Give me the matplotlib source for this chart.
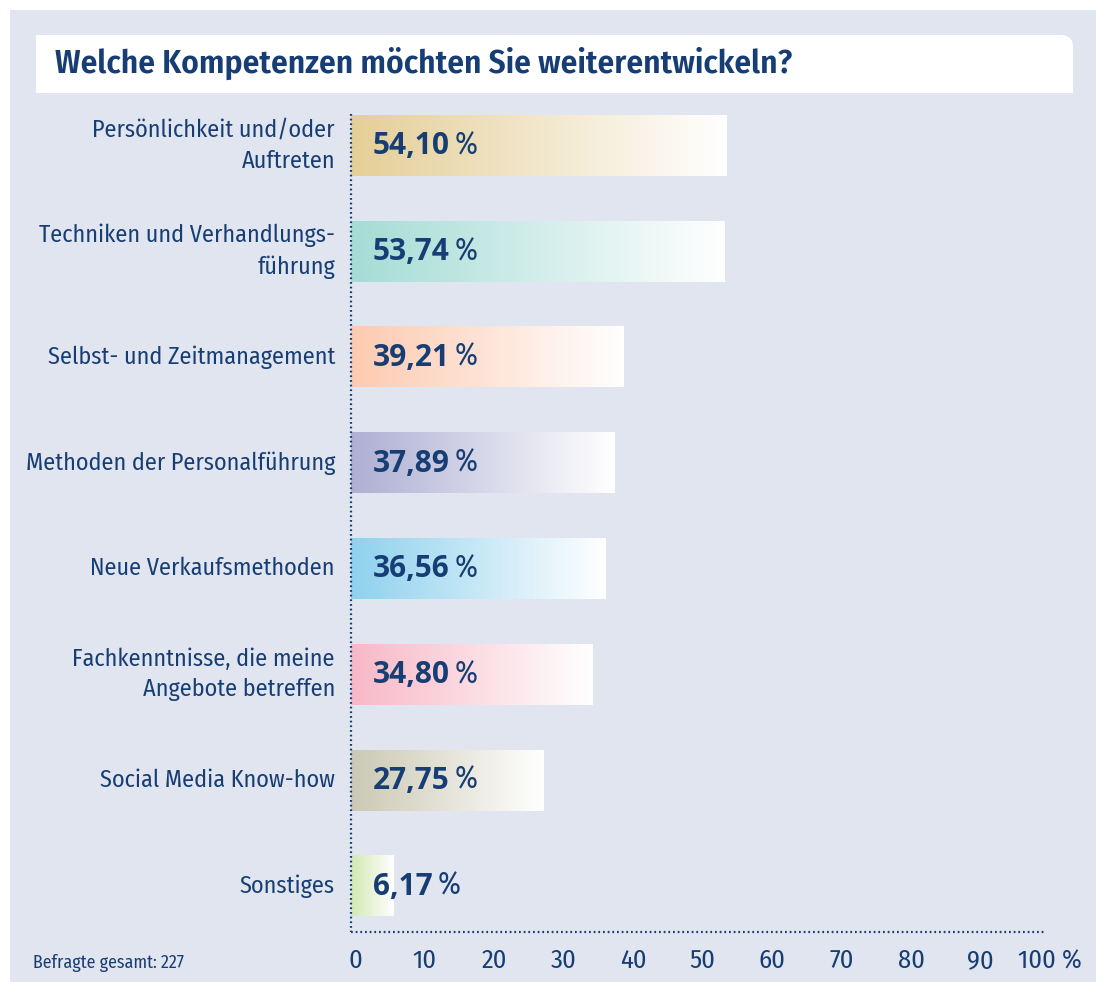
import numpy as np
import matplotlib
matplotlib.use("Agg")
import matplotlib.pyplot as plt
from matplotlib import font_manager
from matplotlib.colors import LinearSegmentedColormap
from matplotlib.patches import Rectangle, FancyBboxPatch
from matplotlib.transforms import ScaledTranslation

# ---------------- data ----------------
categories = [
    "Persönlichkeit und/oder\nAuftreten",
    "Techniken und Verhandlungs-\nführung",
    "Selbst- und Zeitmanagement",
    "Methoden der Personalführung",
    "Neue Verkaufsmethoden",
    "Fachkenntnisse, die meine\nAngebote betreffen",
    "Social Media Know-how",
    "Sonstiges",
]
values = [54.10, 53.74, 39.21, 37.89, 36.56, 34.80, 27.75, 6.17]
value_labels = ["54,10", "53,74", "39,21", "37,89", "36,56", "34,80", "27,75", "6,17"]
bar_colors = ["#E5CF98", "#A5DCD5", "#FDCAB0", "#AEAFD3", "#8FD1EE", "#F8B8C6", "#CBC8B3", "#D3E8B3"]
xticks = [0, 10, 20, 30, 40, 50, 60, 70, 80, 90, 100]
xtick_labels = ["0", "10", "20", "30", "40", "50", "60", "70", "80", "90", "100 %"]
title = "Welche Kompetenzen möchten Sie weiterentwickeln?"
footnote = "Befragte gesamt: 227"

# ---------------- fonts ----------------
names = {f.name for f in font_manager.fontManager.ttflist}
COND = "Open Sans"
for cand in ["Fira Sans Condensed", "PT Sans Narrow", "Asap Condensed",
             "Encode Sans Condensed", "Roboto Condensed", "Open Sans Condensed"]:
    if cand in names:
        COND = cand
        break
NUM = "Open Sans"
NAVY = "#173E74"
PANEL = "#E1E5F0"

W, H = 1096, 982
fig = plt.figure(figsize=(W / 100, H / 100), dpi=100)
fig.patch.set_facecolor("white")

def fx(px):
    return px / W

def fy(py):
    return 1 - py / H

# panel background
fig.patches.append(Rectangle((fx(10), 0), fx(W) - fx(10), fy(10), transform=fig.transFigure,
                             facecolor=PANEL, edgecolor="none", zorder=-3))
# title box with rounded top-right corner
x0, x1, y0, y1 = 36, 1073, 35, 93
fig.patches.append(FancyBboxPatch((fx(x0), fy(y1)), fx(x1) - fx(x0), fy(y0) - fy(y1),
                                  boxstyle="round,pad=0,rounding_size=0.012",
                                  transform=fig.transFigure, facecolor="white",
                                  edgecolor="none", zorder=-2))
fig.patches.append(Rectangle((fx(x0), fy(y1)), fx(x1 - 20) - fx(x0), fy(y0) - fy(y1),
                             transform=fig.transFigure, facecolor="white", edgecolor="none", zorder=-2))
fig.patches.append(Rectangle((fx(x0), fy(y1)), fx(x1) - fx(x0), fy(y1 - 20) - fy(y1),
                             transform=fig.transFigure, facecolor="white", edgecolor="none", zorder=-2))

fig.text(fx(55), fy(73), title, fontsize=24, fontweight="semibold", color=NAVY,
         family=COND, va="baseline", ha="left", zorder=3)
fig.text(fx(33), fy(968), footnote, fontsize=12.9, color=NAVY, family=COND,
         va="baseline", ha="left", zorder=3)

# ---------------- axes ----------------
ax_left, ax_right = 351, 1046
ax_top, ax_bottom = 92.6, 932
ax = fig.add_axes([fx(ax_left), fy(ax_bottom), fx(ax_right) - fx(ax_left), fy(ax_top) - fy(ax_bottom)])
ax.set_zorder(5)
ax.patch.set_visible(False)
ax.set_xlim(0, 100)
ax.set_ylim(7.435, -0.5)
for s in ax.spines.values():
    s.set_visible(False)

bar_h = 0.575
grad = np.linspace(0, 1, 256).reshape(1, -1)
for i, (v, c) in enumerate(zip(values, bar_colors)):
    cmap = LinearSegmentedColormap.from_list(f"g{i}", [c, "#FFFFFF"])
    ax.imshow(grad, cmap=cmap, extent=[0, v, i + bar_h / 2, i - bar_h / 2],
              aspect="auto", interpolation="bilinear", zorder=2)
    t = ax.annotate(value_labels[i], xy=(0, i + 0.083), xytext=(22 * 0.72, 0),
                    textcoords="offset points", ha="left", va="baseline",
                    fontsize=21.5, fontweight="bold", family=NUM, color=NAVY, zorder=4)
    ax.annotate("%", xy=(1, i + 0.083), xycoords=(t, "data"), xytext=(3.5, 0),
                textcoords="offset points", ha="left", va="baseline",
                fontsize=22, fontweight="normal", family=COND, color=NAVY, zorder=4)
    ax.annotate(categories[i], xy=(0, i), xytext=(-16 * 0.72, 0), textcoords="offset points",
                ha="right", va="center", fontsize=17.4, family=COND, color=NAVY,
                linespacing=1.42, zorder=4)

ax.set_xticks(xticks)
ax.set_xticklabels(xtick_labels, fontsize=19, family=COND, color=NAVY)
ax.tick_params(axis="x", length=0, pad=12)
ax.set_yticks([])
shift = ScaledTranslation(4 / 100, 0, fig.dpi_scale_trans)
for lab in ax.get_xticklabels():
    lab.set_transform(lab.get_transform() + shift)

dot = (0, (0.8, 1.3))
ax.plot([0, 0], [-0.3, 7.435], color=NAVY, lw=1.6, linestyle=dot, clip_on=False, zorder=5)
ax.plot([0, 100], [7.435, 7.435], color=NAVY, lw=1.6, linestyle=dot, clip_on=False, zorder=5)

fig.savefig("out.png", dpi=100, facecolor=fig.get_facecolor())
